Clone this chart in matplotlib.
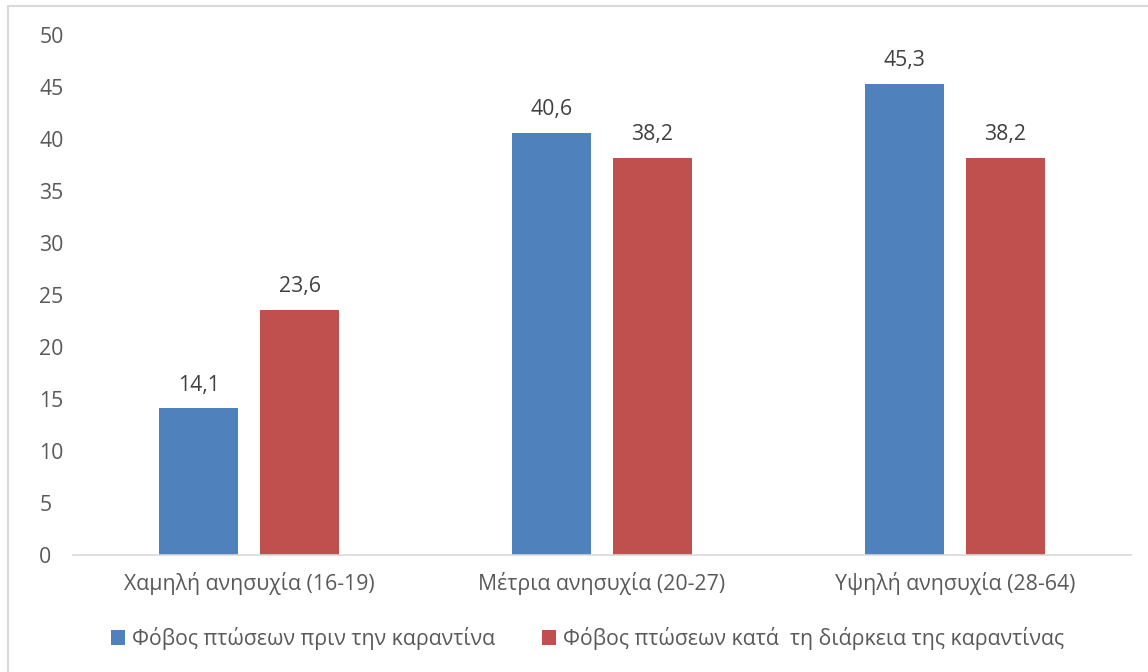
import numpy as np
import matplotlib.pyplot as plt
from matplotlib.patches import Rectangle

categories = ["Χαμηλή ανησυχία (16-19)", "Μέτρια ανησυχία (20-27)", "Υψηλή ανησυχία (28-64)"]
before = [14.1, 40.6, 45.3]
during = [23.6, 38.2, 38.2]
series_names = ["Φόβος πτώσεων πριν την καραντίνα",
                "Φόβος πτώσεων κατά  τη διάρκεια της καραντίνας"]
yticks = list(range(0, 51, 5))

plt.rcParams['font.family'] = ['Open Sans', 'DejaVu Sans']
fs = 15.3

fig = plt.figure(figsize=(11.48, 6.72), dpi=100)
ax = fig.add_axes([0.0632, 0.1741, 0.9224, 0.7738])

# light frame around the whole chart
fig.patches.append(Rectangle((8 / 1148, -0.1), 1.2, 1 - 6 / 672 + 0.1,
                             transform=fig.transFigure, fill=False,
                             edgecolor='#D9D9D9', linewidth=1.5))

x = np.arange(len(categories))
w = 0.224
off = 0.143
b1 = ax.bar(x - off, before, w, color='#4F81BD', label=series_names[0])
b2 = ax.bar(x + off, during, w, color='#C0504D', label=series_names[1])

for bars, vals in ((b1, before), (b2, during)):
    for r, v in zip(bars, vals):
        ax.text(r.get_x() + r.get_width() / 2, v + 1.2, f"{v:.1f}".replace('.', ','),
                ha='center', va='bottom', fontsize=fs, color='#404040')

ax.set_xlim(-0.5, 2.5)
ax.set_ylim(0, 50)
ax.set_yticks(yticks)
ax.set_xticks(x)
ax.set_xticklabels(categories)
ax.tick_params(axis='both', length=0, labelsize=fs, colors='#595959')
ax.tick_params(axis='y', pad=24)
ax.tick_params(axis='x', pad=12)
for t in ax.get_yticklabels():
    t.set_horizontalalignment('left')
for s in ('top', 'right', 'left'):
    ax.spines[s].set_visible(False)
ax.spines['bottom'].set_color('#D9D9D9')
ax.spines['bottom'].set_linewidth(1.2)

leg = fig.legend(handles=[b1, b2], loc='center', bbox_to_anchor=(0.512, 0.05),
                 ncol=2, frameon=False, fontsize=fs, handlelength=0.65,
                 handleheight=0.65, handletextpad=0.35, columnspacing=2.2)
for t in leg.get_texts():
    t.set_color('#595959')

fig.savefig('out.png', dpi=100)
